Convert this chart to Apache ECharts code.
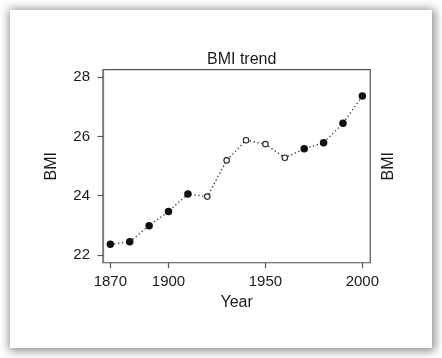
<!DOCTYPE html>
<html>
<head>
<meta charset="utf-8">
<script src="https://cdn.jsdelivr.net/npm/echarts@6/dist/echarts.min.js"></script>
<style>
  html, body { margin: 0; padding: 0; background: #ffffff; }
  #wrap { position: relative; width: 442px; height: 358px; overflow: hidden; }
  #frame { position: absolute; left: 10px; top: 10px; width: 422px; height: 338px;
           background: #fff; box-shadow: 1px 1px 9px 2px rgba(0,0,0,0.45); }
  #chart { position: absolute; left: 0; top: 0; width: 442px; height: 358px; }
</style>
</head>
<body>
<div id="wrap"><div id="frame"></div><div id="chart"></div></div>
<script>
const years = [1870, 1880, 1890, 1900, 1910, 1920, 1930, 1940, 1950, 1960, 1970, 1980, 1990, 2000];
const bmi   = [22.36, 22.45, 22.99, 23.47, 24.06, 23.97, 25.19, 25.87, 25.74, 25.28, 25.58, 25.79, 26.44, 27.36];
const filled = [true, true, true, true, true, false, false, false, false, false, true, true, true, true];
const xTicks = [1870, 1900, 1950, 2000];
const yTicks = [22, 24, 26, 28];

const lineData = years.map((y, i) => [y, bmi[i]]);
const filledData = years.map((y, i) => [y, bmi[i]]).filter((d, i) => filled[i]);
const openData = years.map((y, i) => [y, bmi[i]]).filter((d, i) => !filled[i]);

const font = 'Liberation Sans, Arial, Helvetica, sans-serif';
const txt = '#1a1a1a';

const chart = echarts.init(document.getElementById('chart'), null, { renderer: 'canvas' });
chart.setOption({
  animation: false,
  backgroundColor: 'transparent',
  title: {
    text: 'BMI trend',
    left: 236.7, top: 47, textAlign: 'center',
    textStyle: { fontFamily: font, fontSize: 16, fontWeight: 'normal', color: txt }
  },
  grid: {
    left: 103, right: 71.7, top: 69.7, bottom: 95.3,
    show: true, borderColor: '#555', borderWidth: 1.2, backgroundColor: 'transparent'
  },
  xAxis: {
    type: 'value', min: 1866.2, max: 2004.1,
    name: 'Year', nameLocation: 'middle', nameGap: 32,
    nameTextStyle: { fontFamily: font, fontSize: 16, color: txt },
    axisLine: { show: true, lineStyle: { color: '#777', width: 1.2 } },
    axisTick: { show: true, inside: false, length: 5.5, customValues: xTicks, lineStyle: { color: '#555', width: 1.2 } },
    axisLabel: { customValues: xTicks, margin: 12, fontFamily: font, fontSize: 15, color: txt, formatter: v => String(v) },
    splitLine: { show: false }
  },
  yAxis: [{
    type: 'value', min: 21.74, max: 28.25,
    name: 'BMI', nameLocation: 'middle', nameGap: 43, nameRotate: 90,
    nameTextStyle: { fontFamily: font, fontSize: 16, color: txt },
    axisLine: { show: true, lineStyle: { color: '#777', width: 1.2 } },
    axisTick: { show: true, inside: false, length: 5.5, customValues: yTicks, lineStyle: { color: '#555', width: 1.2 } },
    axisLabel: { customValues: yTicks, margin: 13, fontFamily: font, fontSize: 15, color: txt, formatter: v => String(v) },
    splitLine: { show: false }
  }, {
    type: 'value', min: 21.74, max: 28.25, position: 'right',
    name: 'BMI', nameLocation: 'middle', nameGap: 10, nameRotate: 90,
    nameTextStyle: { fontFamily: font, fontSize: 16, color: txt },
    axisLine: { show: false }, axisTick: { show: false }, axisLabel: { show: false },
    splitLine: { show: false }
  }],
  series: [{
    type: 'line', data: lineData, symbol: 'none',
    lineStyle: { color: '#333', width: 1.3, type: [1.3, 2.6] }, z: 1
  }, {
    type: 'scatter', data: filledData, symbol: 'circle', symbolSize: 7.5,
    itemStyle: { color: '#111', opacity: 1 }, z: 3
  }, {
    type: 'scatter', data: openData, symbol: 'circle', symbolSize: 5.5,
    itemStyle: { color: '#fff', borderColor: '#222', borderWidth: 1.1, opacity: 1 }, z: 3
  }]
});
</script>
</body>
</html>
